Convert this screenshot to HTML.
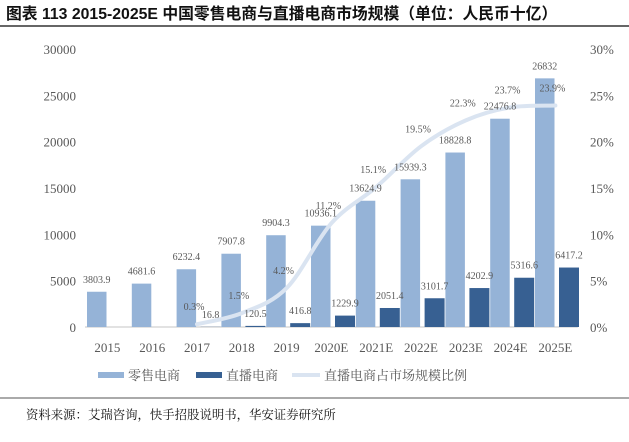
<!DOCTYPE html>
<html><head><meta charset="utf-8"><style>
body{margin:0;background:#fff;width:629px;height:437px;overflow:hidden;font-family:"Liberation Serif","Noto Serif CJK SC",serif}
</style></head><body>
<svg width="629" height="437" xmlns="http://www.w3.org/2000/svg">
<text x="6" y="19" font-family="Liberation Sans,'Noto Sans CJK SC',sans-serif" font-weight="bold" font-size="15.8" fill="#111">图表 113 2015-2025E 中国零售电商与直播电商市场规模（单位：人民币十亿）</text>
<line x1="0" y1="26" x2="629" y2="26" stroke="#333" stroke-width="1.5"/>
<g id="axes"></g><g id="bars"></g><g id="line"></g><g id="labels"></g>
<g font-family="'Noto Serif CJK SC',serif" font-size="13" fill="#595959">
<rect x="98" y="372" width="26" height="6" fill="#95b3d7"/>
<text x="128" y="380">零售电商</text>
<rect x="196" y="372" width="26" height="6" fill="#376092"/>
<text x="226" y="380">直播电商</text>
<line x1="292" y1="375" x2="320" y2="375" stroke="#dae4f1" stroke-width="4"/>
<text x="324" y="380">直播电商占市场规模比例</text>
</g>
<line x1="0" y1="398" x2="629" y2="398" stroke="#555" stroke-width="1"/>
<text x="26" y="419" font-family="'Noto Serif CJK SC',serif" font-size="12.4" fill="#111">资料来源：艾瑞咨询，快手招股说明书，华安证券研究所</text>
</svg>
<script>
const categories=["2015","2016","2017","2018","2019","2020E","2021E","2022E","2023E","2024E","2025E"];
const retail=[3803.9,4681.6,6232.4,7907.8,9904.3,10936.1,13624.9,15939.3,18828.8,22476.8,26832];
const live=[null,null,16.8,120.5,416.8,1229.9,2051.4,3101.7,4202.9,5316.6,6417.2];
const share=[null,null,0.3,1.5,4.2,11.2,15.1,19.5,22.3,23.7,23.9];
const leftTicks=[0,5000,10000,15000,20000,25000,30000];
const rightTicks=[0,5,10,15,20,25,30];
const NS="http://www.w3.org/2000/svg";
const x0=85,cw=44.8,yb=327,yt=49;
const yL=v=>yb-(v/30000)*(yb-yt);
const yR=v=>yb-(v/30)*(yb-yt);
const cx=i=>x0+i*cw+cw/2;
function mk(tag,attrs,parent){const e=document.createElementNS(NS,tag);for(const k in attrs)e.setAttribute(k,attrs[k]);document.getElementById(parent).appendChild(e);return e;}
function txt(x,y,s,size,anchor,parent){const t=mk("text",{x:x,y:y,"font-size":size,fill:"#595959","text-anchor":anchor,"font-family":"Liberation Serif,serif"},parent);t.textContent=s;return t;}
let e=mk("line",{x1:x0,y1:yb,x2:x0+cw*11,y2:yb,stroke:"#d9d9d9","stroke-width":1.5},"axes");


leftTicks.forEach(v=>{const t=txt(76,yL(v)+5,String(v),13,"end","axes");

});
rightTicks.forEach(v=>{const t=txt(590,yR(v)+5,v+"%",13,"start","axes");

});
categories.forEach((c,i)=>{const t=txt(cx(i),352,c,13,"middle","axes");

});
retail.forEach((v,i)=>{const bx=x0+i*cw+2;
const r=mk("rect",{x:bx,y:yL(v),width:19.5,height:yb-yL(v),fill:"#95b3d7"},"bars");


const t=txt(bx+9.75,yL(v)-9,String(v),10,"middle","labels");

});
live.forEach((v,i)=>{if(v==null)return;const bx=x0+i*cw+26;
const r=mk("rect",{x:bx,y:yL(v),width:20,height:yb-yL(v),fill:"#376092"},"bars");


const t=txt(bx+10,yL(v)-9,String(v),10,"middle","labels");

});
const pts=[];share.forEach((v,i)=>{if(v!=null)pts.push([cx(i),yR(v),v]);});
let d="M"+pts[0][0]+","+pts[0][1];
for(let i=0;i<pts.length-1;i++){const p0=pts[i-1]||pts[i],p1=pts[i],p2=pts[i+1],p3=pts[i+2]||p2;
const c1x=p1[0]+(p2[0]-p0[0])/6,c1y=p1[1]+(p2[1]-p0[1])/6,c2x=p2[0]-(p3[0]-p1[0])/6,c2y=p2[1]-(p3[1]-p1[1])/6;
d+=" C"+c1x+","+c1y+" "+c2x+","+c2y+" "+p2[0]+","+p2[1];}
const pl=mk("path",{d:d,fill:"none",stroke:"#dae4f1","stroke-width":4,"stroke-linecap":"round"},"line");


pts.forEach(p=>{const t=txt(p[0]-3,p[1]-14,p[2].toFixed(1)+"%",10,"middle","labels");

});
</script>
</body></html>
